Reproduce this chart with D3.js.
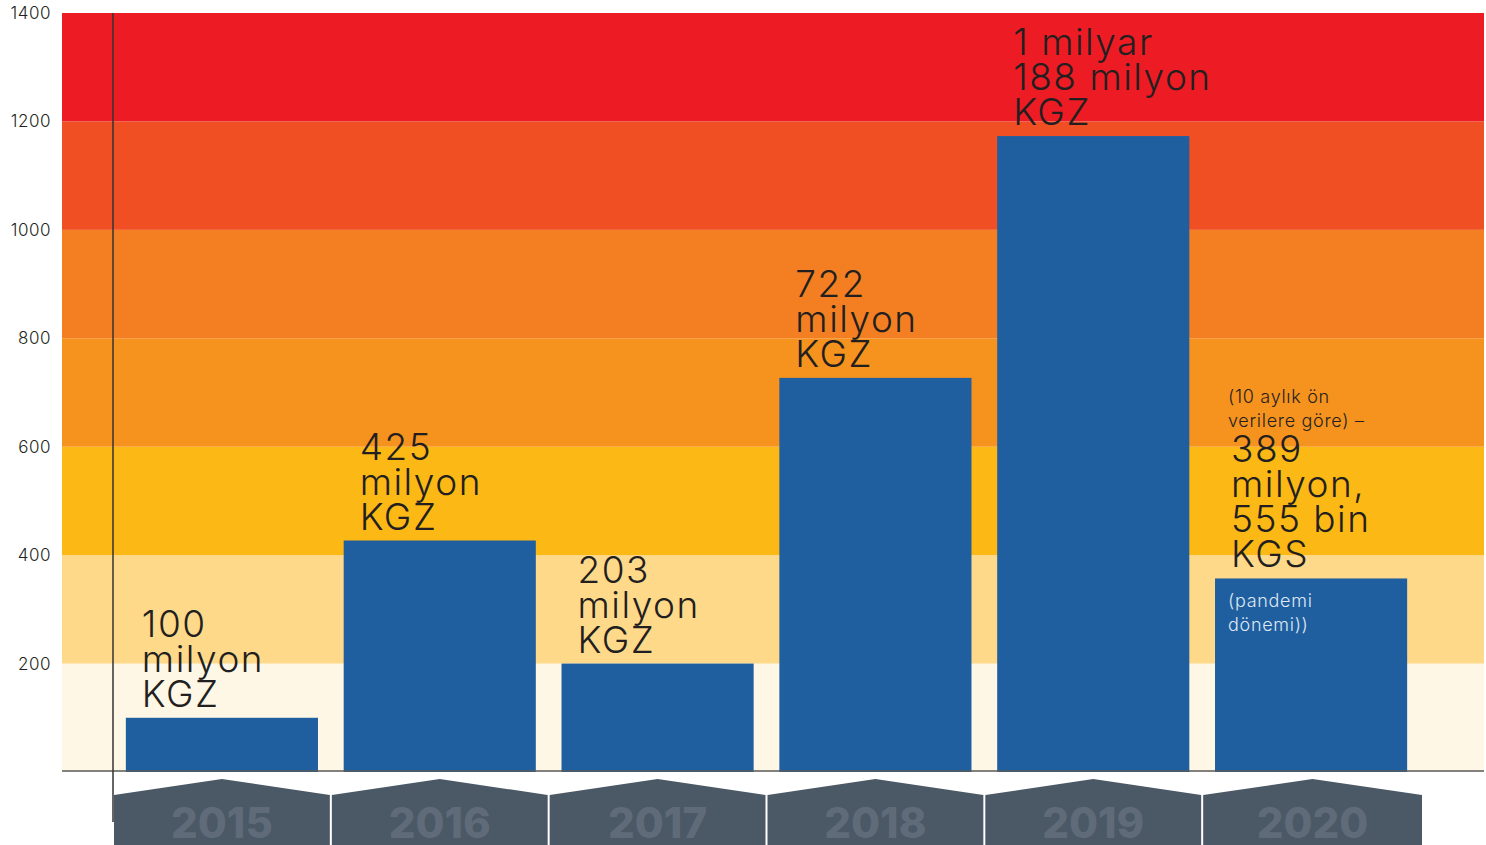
<!DOCTYPE html>
<html>
<head>
<meta charset="utf-8">
<script src="https://cdn.jsdelivr.net/npm/d3@7"></script>
<style>
  body { margin: 0; background: #fff; }
</style>
</head>
<body>
<div id="chart"></div>
<script>
// data
var years = ["2015", "2016", "2017", "2018", "2019", "2020"];
var values = [100, 427, 200, 727, 1173, 357];
var labels = [
  ["100", "milyon", "KGZ"],
  ["425", "milyon", "KGZ"],
  ["203", "milyon", "KGZ"],
  ["722", "milyon", "KGZ"],
  ["1 milyar", "188 milyon", "KGZ"],
  ["389", "milyon,", "555 bin", "KGS"]
];
var noteAbove = ["(10 aylık ön", "verilere göre) –"];
var noteInside = ["(pandemi", "dönemi))"];
var yTicks = [200, 400, 600, 800, 1000, 1200, 1400];
var bandStops = [0, 200, 400, 600, 800, 1000, 1200, 1400];
var bandColors = ['#fef7e6', '#fed98a', '#fcb815', '#f6921e', '#f37f22', '#f04e23', '#ed1c24'];

var width = 1486, height = 845;
var margin = {top: 13, right: 2, bottom: 73, left: 62};

var svg = d3.select('#chart').append('svg')
  .attr('width', width)
  .attr('height', height)
  .attr('font-family', 'Inter');

var y = d3.scaleLinear()
  .domain([0, 1400])
  .range([height - margin.bottom, margin.top]);

var x = d3.scaleBand()
  .domain(years)
  .range([113, 1420])
  .paddingInner(0.118)
  .paddingOuter(0.059);

// colored background bands
svg.append("g")
  .selectAll("rect")
  .data(bandColors)
  .join("rect")
  .attr("x", margin.left)
  .attr("width", width - margin.right - margin.left)
  .attr("y", (d, i) => y(bandStops[i + 1]))
  .attr("height", (d, i) => y(bandStops[i]) - y(bandStops[i + 1]))
  .attr("fill", d => d);

// y axis labels
var yAxis = g => g
  .attr("transform", `translate(${margin.left - 8},0)`)
  .call(d3.axisLeft(y).tickValues(yTicks).tickSize(0).tickFormat(d3.format("d")))
  .call(g => g.select(".domain").remove())
  .call(g => g.selectAll(".tick text")
    .attr("fill", "#231f20")
    .attr("font-family", "Inter")
    .attr("font-weight", "300")
    .attr("letter-spacing", "0.5px")
    .attr("font-size", "17px"));

svg.append("g").call(yAxis);

// bars
svg.append("g")
  .selectAll("rect")
  .data(years)
  .join("rect")
  .attr("fill", "#1f5fa0")
  .attr("x", d => x(d))
  .attr("y", (d, i) => y(values[i]))
  .attr("width", x.bandwidth())
  .attr("height", (d, i) => y(0) - y(values[i]));

// value labels above bars
var lineH = 35;
years.forEach((yr, i) => {
  var lines = labels[i];
  var top = y(values[i]);
  var t = svg.append("text")
    .attr("fill", "#231f20")
    .attr("font-size", "37px")
    .attr("font-weight", "300")
    .attr("letter-spacing", "1.5px")
    .attr("x", x(yr) + 16);
  lines.forEach((l, j) => {
    t.append("tspan")
      .attr("x", x(yr) + 16)
      .attr("y", top - 11 - (lines.length - 1 - j) * lineH)
      .text(l);
  });
  if (yr === "2020") {
    var firstBase = top - 11 - (lines.length - 1) * lineH;
    noteAbove.forEach((l, j) => {
      svg.append("text")
        .attr("fill", "#231f20")
        .attr("font-size", "18px")
        .attr("font-weight", "300")
        .attr("letter-spacing", "0.7px")
        .attr("x", x(yr) + 13)
        .attr("y", firstBase - 35 - (noteAbove.length - 1 - j) * 24)
        .text(l);
    });
    noteInside.forEach((l, j) => {
      svg.append("text")
        .attr("fill", "#dfe8f3")
        .attr("font-size", "18px")
        .attr("font-weight", "300")
        .attr("letter-spacing", "0.7px")
        .attr("x", x(yr) + 13)
        .attr("y", top + 29 + j * 24)
        .text(l);
    });
  }
});

// baseline
svg.append("line")
  .attr("x1", margin.left).attr("x2", width - margin.right)
  .attr("y1", y(0) - 1).attr("y2", y(0) - 1)
  .attr("stroke", "#5a5a5a").attr("stroke-width", 1.5);

// year tabs
var pad = x.step() - x.bandwidth();
var tabs = svg.append("g");
years.forEach((yr, i) => {
  var x0 = x(yr) - pad / 2 + 1, x1 = x(yr) + x.bandwidth() + pad / 2 - 1;
  if (i === years.length - 1) x1 += 3;
  var xm = (x0 + x1) / 2;
  tabs.append("path")
    .attr("d", `M${x0},795 L${xm},779 L${x1},795 L${x1},${height} L${x0},${height} Z`)
    .attr("fill", "#4b5865");
  tabs.append("text")
    .attr("x", xm)
    .attr("y", 838)
    .attr("text-anchor", "middle")
    .attr("fill", "#5f6b79")
    .attr("font-size", "42px")
    .attr("font-weight", "800")
    .text(yr);
});

// vertical axis line
svg.append("line")
  .attr("x1", 113).attr("x2", 113)
  .attr("y1", margin.top).attr("y2", 822)
  .attr("stroke", "#333").attr("stroke-width", 1.5);
</script>
</body>
</html>
